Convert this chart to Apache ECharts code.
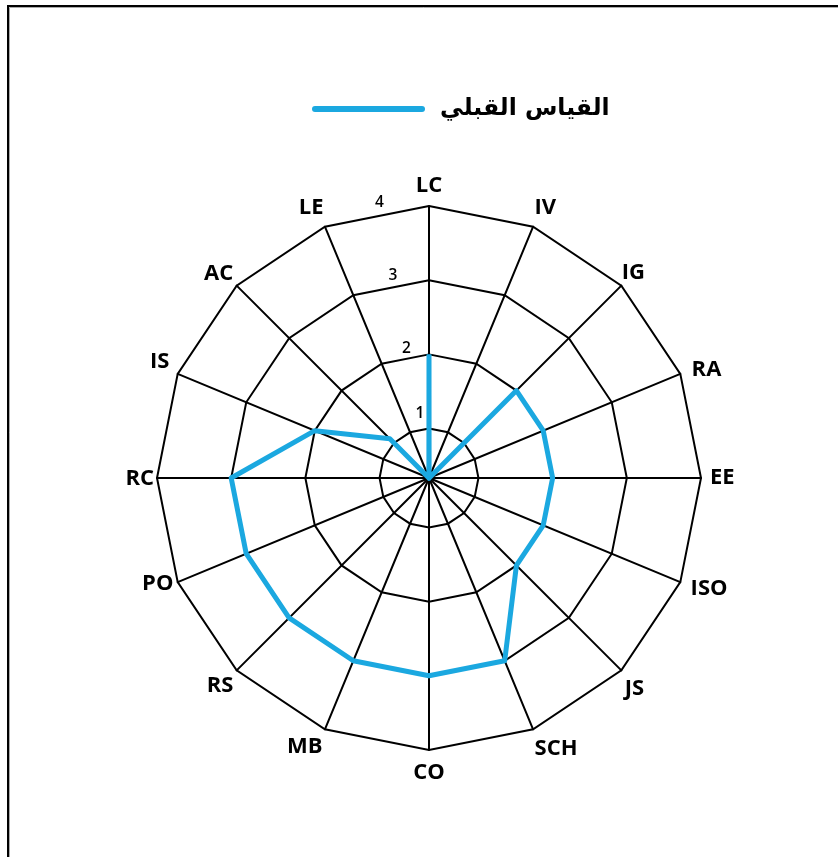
<!DOCTYPE html>
<html>
<head>
<meta charset="utf-8">
<script src="https://cdn.jsdelivr.net/npm/echarts@6/dist/echarts.min.js"></script>
<style>
html,body{margin:0;padding:0;background:#fff;}
#chart{width:838px;height:857px;}
</style>
</head>
<body>
<div id="chart"></div>
<script>
// Categories in clockwise order starting at the top
var categories = ['LC','IV','IG','RA','EE','ISO','JS','SCH','CO','MB','RS','PO','RC','IS','AC','LE'];
// Series values (same order as categories)
var seriesName = 'القياس القبلي';
var seriesValues = [2.0, 0.33, 2.0, 2.0, 2.0, 2.0, 2.0, 3.0, 3.0, 3.0, 3.0, 3.0, 3.0, 2.0, 1.08, 0.33];
// Tick labels shown on the scale
var tickLabels = [1, 2, 3, 4];
var axisMin = 1/3;
var axisMax = 4;

// ECharts places radar indicators counter-clockwise; reorder to draw clockwise
var order = [0];
for (var i = categories.length - 1; i >= 1; i--) order.push(i);
var indicators = order.map(function (i) { return { name: categories[i], min: axisMin, max: axisMax }; });
var values = order.map(function (i) { return seriesValues[i]; });

// Per-label fine placement (padding: top, right, bottom, left)
var namePad = {
  LC: [0, 0, 0, 0], IV: [0, 0, 22, -2], IG: [0, 0, 14, -6], RA: [0, 0, 2, 3],
  EE: [0, 0, 0, 0], ISO: [6, 0, 0, 2], JS: [24, 0, 0, -3], SCH: [22, 0, 0, -2],
  CO: [3, 0, 0, 0], MB: [18, -1, 0, 0], RS: [18, -3, 0, 0], PO: [0, -4, 4, 0],
  RC: [2, -6, 0, 0], IS: [0, 0, 18, 0], AC: [0, -3, 12, 0], LE: [0, -2, 22, 0]
};
var nameFont = { color: '#000', fontFamily: 'Open Sans', fontWeight: 'bold', fontSize: 22 };
var nameRich = {};
categories.forEach(function (c) {
  nameRich[c] = Object.assign({ padding: namePad[c] }, nameFont);
});

var chart = echarts.init(document.getElementById('chart'));
var blue = '#1ba8e0';
var tickFont = { fontFamily: 'Open Sans', fontSize: 15.5, fontWeight: 600, color: '#000' };
var option = {
  backgroundColor: '#ffffff',
  animation: false,
  graphic: [
    { type: 'polyline', shape: { points: [[8, 857], [8, 6], [838, 6]] }, style: { stroke: '#000', lineWidth: 2, fill: null } },
    { type: 'polyline', shape: { points: [[9.5, 857], [9.5, 7.5], [838, 7.5]] }, style: { stroke: '#aaa', lineWidth: 1, fill: null } }
  ],
  legend: {
    left: 312,
    top: 97,
    padding: 0,
    icon: 'path://M3,0 H110 A3,3 0 0 1 110,6 H3 A3,3 0 0 1 3,0 Z',
    itemWidth: 113,
    itemHeight: 6,
    data: [seriesName],
    textStyle: {
      fontFamily: 'DejaVu Sans',
      fontWeight: 'bold',
      fontSize: 23.5,
      color: '#000',
      padding: [0, 0, 0, 10]
    }
  },
  radar: {
    center: [429, 478],
    radius: 272,
    startAngle: 90,
    shape: 'polygon',
    splitNumber: 11,
    indicator: indicators,
    axisName: Object.assign({
      formatter: function (name) { return '{' + name + '|' + name + '}'; },
      rich: nameRich
    }, nameFont),
    nameGap: 9,
    axisLine: { lineStyle: { color: '#000', width: 2 } },
    splitLine: { lineStyle: { color: ['rgba(0,0,0,0)', 'rgba(0,0,0,0)', '#000'], width: 2 } },
    splitArea: { show: false },
    axisLabel: { show: false },
    axisTick: { show: false }
  },
  polar: { center: [429, 478], radius: 272 },
  angleAxis: { show: false, startAngle: 100.5, min: 0, max: 360 },
  radiusAxis: {
    min: axisMin,
    max: axisMax,
    interval: 1/3,
    axisLine: { show: false },
    axisTick: { show: false },
    splitLine: { show: false },
    axisLabel: Object.assign({
      interval: 0,
      margin: 0,
      align: 'center',
      verticalAlign: 'bottom',
      formatter: function (v) {
        var r = Math.round(v);
        if (Math.abs(v - r) < 0.05 && tickLabels.indexOf(r) >= 0) {
          return r === 1 ? '{one|1}' : String(r);
        }
        return '';
      },
      rich: { one: Object.assign({ padding: [0, 0, 8, 0] }, tickFont) }
    }, tickFont)
  },
  series: [{
    type: 'radar',
    name: seriesName,
    symbol: 'none',
    lineStyle: { color: blue, width: 5 },
    itemStyle: { color: blue },
    data: [{ name: seriesName, value: values }]
  }]
};
chart.setOption(option);
</script>
</body>
</html>
